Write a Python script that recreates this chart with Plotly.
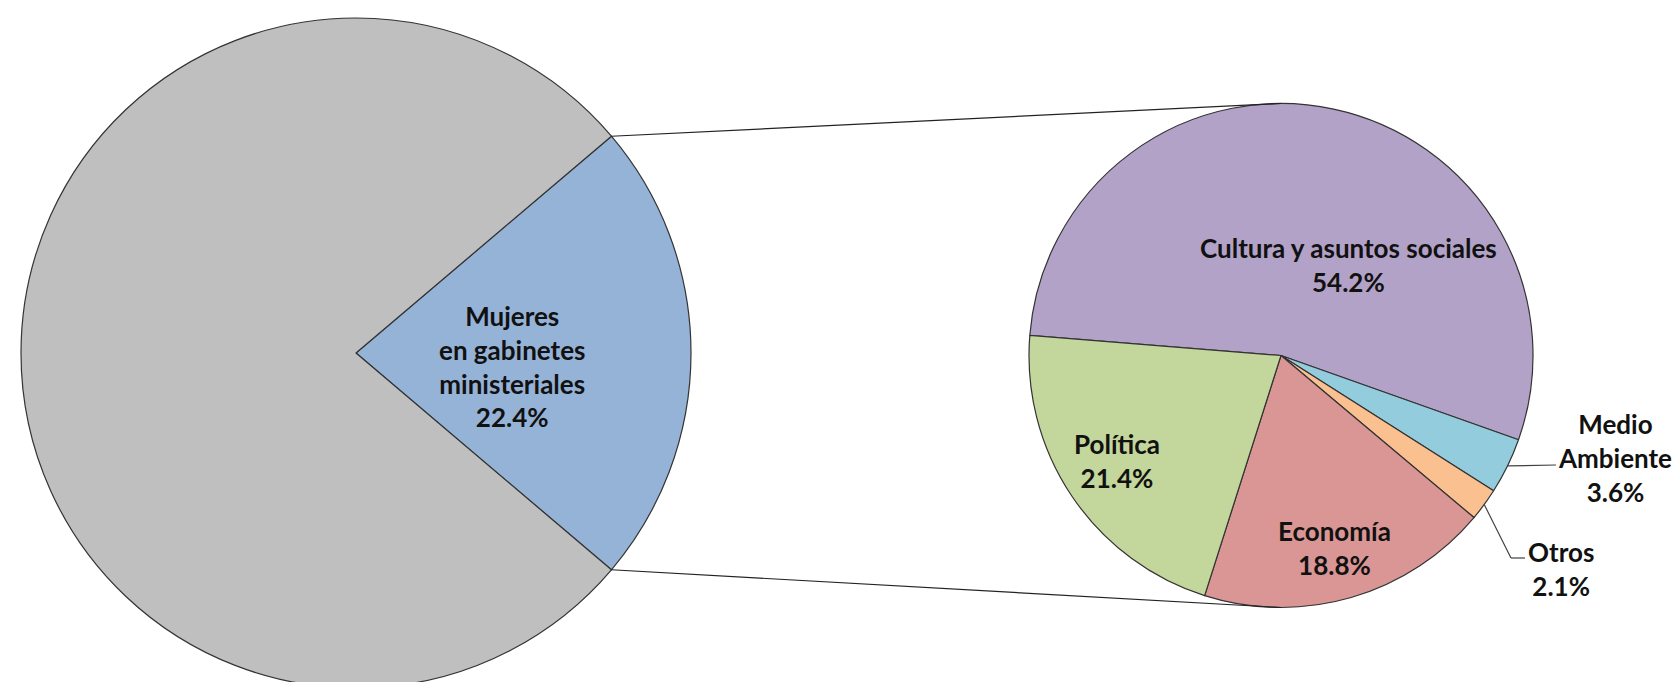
import math
import plotly.graph_objects as go

# ---------------- data ----------------
main_categories = ["Mujeres en gabinetes ministeriales", "Resto"]
main_values = [22.4, 77.6]
main_display = "Mujeres<br>en gabinetes<br>ministeriales"

sub_categories = ["Cultura y asuntos sociales", "Medio Ambiente", "Otros", "Economía", "Política"]
sub_values = [54.2, 3.6, 2.1, 18.8, 21.4]
sub_display = ["Cultura y asuntos sociales", "Medio<br>Ambiente", "Otros", "Economía", "Política"]

# ---------------- styles / layout constants ----------------
W, H = 1680, 682
main_colors = ["#95B3D7", "#BFBFBF"]
sub_colors = ["#B3A2C7", "#93CDDD", "#FAC090", "#D99694", "#C3D69B"]
EDGE = "#333333"
FONT = dict(family="Lato, Carlito, Calibri, sans-serif", size=26, color="#111111", weight="bold")

BIG_CX, BIG_CY, BIG_R = 348, 345, 335        # px, y measured from top
SMALL_CX, SMALL_CY, SMALL_R = 1273, 347.5, 252
SMALL_ROTATION = -85.4                        # start of first slice, clockwise from 12 o'clock

main_label_pos = (504, 358)
sub_label_pos = [(1340, 257), (1607, 450), (1553, 561), (1326, 540), (1109, 453)]
leader_ends = {1: [(1548, 457)], 2: [(1503, 550), (1517, 550)]}


def px(x, y):
    return x / W, 1 - y / H


def domain(cx, cy, r):
    return dict(x=[(cx - r) / W, (cx + r) / W],
                y=[max(0, (H - cy - r) / H), min(1, (H - cy + r) / H)])


def fmt(v):
    return f"{v:.1f}%"


fig = go.Figure()

# main pie: highlighted slice centred on 3 o'clock
main_total = sum(main_values)
main_rotation = 90 - main_values[0] / main_total * 360 / 2
fig.add_trace(go.Pie(
    labels=main_categories, values=main_values, sort=False, direction="clockwise",
    rotation=main_rotation, domain=domain(BIG_CX, BIG_CY, BIG_R),
    marker=dict(colors=main_colors, line=dict(color=EDGE, width=1.2)),
    textinfo="none", hoverinfo="label+percent", showlegend=False,
))

fig.add_trace(go.Pie(
    labels=sub_categories, values=sub_values, sort=False, direction="clockwise",
    rotation=SMALL_ROTATION, domain=domain(SMALL_CX, SMALL_CY, SMALL_R),
    marker=dict(colors=sub_colors, line=dict(color=EDGE, width=1.2)),
    textinfo="none", hoverinfo="label+value", showlegend=False,
))

shapes = []
annotations = []

# connector lines between the two pies
half = math.radians(main_values[0] / main_total * 360 / 2)
corner_top = (BIG_CX + BIG_R * math.cos(half), BIG_CY - BIG_R * math.sin(half))
corner_bot = (BIG_CX + BIG_R * math.cos(half), BIG_CY + BIG_R * math.sin(half))
small_top = (SMALL_CX, SMALL_CY - SMALL_R)
small_bot = (SMALL_CX, SMALL_CY + SMALL_R)
for a, b in [(corner_top, small_top), (corner_bot, small_bot)]:
    x0, y0 = px(*a)
    x1, y1 = px(*b)
    shapes.append(dict(type="line", xref="paper", yref="paper", x0=x0, y0=y0, x1=x1, y1=y1,
                       line=dict(color="#222222", width=1.2)))

# leader lines for the small slices
sub_total = sum(sub_values)
cum = 0
for i, v in enumerate(sub_values):
    mid = math.radians(SMALL_ROTATION + (cum + v / 2) / sub_total * 360)
    cum += v
    if i in leader_ends:
        pts = [(SMALL_CX + SMALL_R * math.sin(mid), SMALL_CY - SMALL_R * math.cos(mid))] + leader_ends[i]
        for a, b in zip(pts[:-1], pts[1:]):
            x0, y0 = px(*a)
            x1, y1 = px(*b)
            shapes.append(dict(type="line", xref="paper", yref="paper", x0=x0, y0=y0, x1=x1, y1=y1,
                               line=dict(color="#404040", width=1.2)))

# labels
x, y = px(*main_label_pos)
annotations.append(dict(x=x, y=y, xref="paper", yref="paper", showarrow=False,
                        text=f"{main_display}<br>{fmt(main_values[0])}", font=FONT,
                        xanchor="center", yanchor="middle", align="center"))
for name, v, pos in zip(sub_display, sub_values, sub_label_pos):
    x, y = px(*pos)
    annotations.append(dict(x=x, y=y, xref="paper", yref="paper", showarrow=False,
                            text=f"{name}<br>{fmt(v)}", font=FONT,
                            xanchor="center", yanchor="middle", align="center"))

fig.update_layout(
    width=W, height=H, margin=dict(l=0, r=0, t=0, b=0),
    paper_bgcolor="white", plot_bgcolor="white",
    shapes=shapes, annotations=annotations, showlegend=False,
)

fig.write_html("out.html")
